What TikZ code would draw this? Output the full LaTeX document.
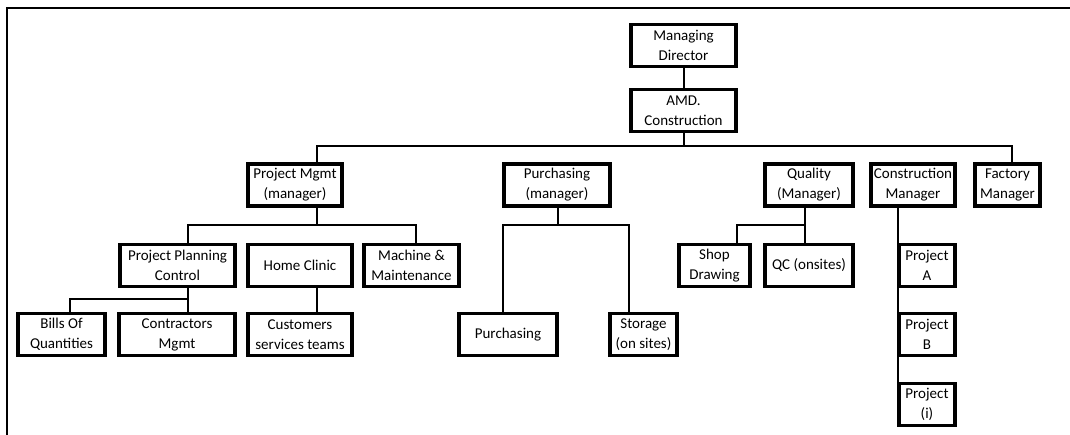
\documentclass[tikz,border=0pt]{standalone}
\usepackage{fontspec}
\setmainfont{Carlito}
\usepackage{tikz}
\usetikzlibrary{backgrounds,positioning}
\tikzstyle{unit}=[shape=rectangle, draw, line width=3.5pt, fill=white, align=center, inner sep=0pt, minimum height=42pt, font=\fontsize{15}{20}\selectfont]
\tikzstyle{link}=[line width=2pt]
\tikzstyle{thin}=[line width=1.2pt]

\begin{document}
\begin{tikzpicture}[x=1pt,y=-1pt]
\useasboundingbox (0,0) rectangle (1070,435);
\draw[line width=2pt] (7,435) -- (7,8) -- (1070,8);

\node (md) [unit,minimum width=105pt] at (683.5,45.5) {Managing\\Director};
\node (amd) [unit,minimum width=105pt] at (683.5,110.5) {AMD.\\Construction};

\node (pm) [unit,minimum width=94pt] at (295,185) {Project Mgmt\\(manager)};
\node (pur) [unit,minimum width=106pt] at (557,185) {Purchasing\\(manager)};
\node (qual) [unit,minimum width=88pt] at (809,185) {Quality\\(Manager)};
\node (cm) [unit,minimum width=84pt] at (913,185) {Construction\\Manager};
\node (fm) [unit,minimum width=65pt] at (1007.5,185) {Factory\\Manager};

\node (ppc) [unit,minimum width=115pt] at (177.5,265.5) {Project Planning\\Control};
\node (hc) [unit,minimum width=104pt] at (300,265.5) {Home Clinic};
\node (mm) [unit,minimum width=95pt] at (411.5,265.5) {Machine \&\\Maintenance};
\node (shop) [unit,minimum width=71pt] at (714.5,265.5) {Shop\\Drawing};
\node (qc) [unit,minimum width=88pt] at (809,265.5) {QC (onsites)};
\node (pa) [unit,minimum width=56pt] at (927,265.5) {Project\\A};

\node (boq) [unit,minimum width=87pt] at (61.5,334.5) {Bills Of\\Quantities};
\node (con) [unit,minimum width=116pt] at (177,334.5) {Contractors\\Mgmt};
\node (cust) [unit,minimum width=104pt] at (300,334.5) {Customers\\services teams};
\node (purch) [unit,minimum width=98pt] at (508,334.5) {Purchasing};
\node (stor) [unit,minimum width=67pt] at (643.5,334.5) {Storage\\(on sites)};
\node (pb) [unit,minimum width=56pt] at (927,334.5) {Project\\B};
\node (pi) [unit,minimum width=56pt] at (927,404.5) {Project\\(i)};

\coordinate (bar) at (683.5,146);
\coordinate (t1) at (317,146);
\coordinate (t2) at (1012,146);
\coordinate (p0) at (188,225);
\coordinate (p1) at (317,225);
\coordinate (p2) at (416,225);
\coordinate (q0) at (70,299);
\coordinate (q1) at (188,299);
\coordinate (r0) at (503,225);
\coordinate (r1) at (558,225);
\coordinate (r2) at (629,225);
\coordinate (s0) at (737,225);
\coordinate (s1) at (805,225);
\coordinate (c0) at (898,225);

\begin{scope}[on background layer]
\draw[link] (md) -- (amd);
\draw[link] (amd) -- (bar);
\draw[link] (t1 |- pm.north) -- (t1) -- (t2) -- (t2 |- fm.north);
\draw[thin] (p1 |- pm.south) -- (p1);
\draw[link] (p0 |- ppc.north) -- (p0) -- (p2) -- (p2 |- mm.north);
\draw[link] (q1 |- ppc.south) -- (q1 |- con.north);
\draw[link] (q0 |- boq.north) -- (q0) -- (q1);
\draw[thin] (p1 |- hc.south) -- (p1 |- cust.north);
\draw[link] (r1 |- pur.south) -- (r1);
\draw[link] (r0 |- purch.north) -- (r0) -- (r2) -- (r2 |- stor.north);
\draw[link] (s1 |- qual.south) -- (s1 |- qc.north);
\draw[link] (s0 |- shop.north) -- (s0) -- (s1);
\draw[thin] (c0 |- cm.south) -- (c0 |- pi.north);
\end{scope}

\end{tikzpicture}
\end{document}
